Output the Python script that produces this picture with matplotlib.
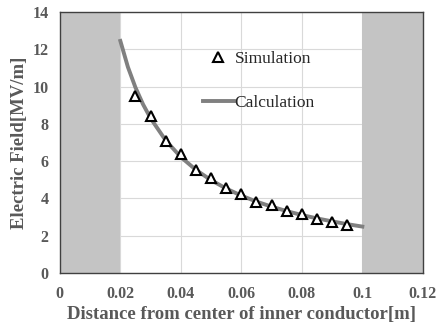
"""Electric field vs radial distance in a coaxial conductor."""
import matplotlib

matplotlib.use("Agg")
import matplotlib.pyplot as plt

# simulation points
sim_r = [0.025, 0.030, 0.035, 0.040, 0.045, 0.050, 0.055, 0.060,
         0.065, 0.070, 0.075, 0.080, 0.085, 0.090, 0.095]
sim_e = [9.51, 8.44, 7.10, 6.40, 5.53, 5.08, 4.54, 4.24,
         3.83, 3.65, 3.34, 3.15, 2.90, 2.75, 2.58]

# calculated curve
calc_r = [0.020, 0.0225, 0.025, 0.0275, 0.030, 0.035, 0.040, 0.045, 0.050,
          0.055, 0.060, 0.065, 0.070, 0.075, 0.080, 0.085, 0.090, 0.095, 0.100]
calc_e = [12.45, 11.05, 9.95, 9.05, 8.30, 7.11, 6.22, 5.53, 4.98,
          4.53, 4.15, 3.83, 3.56, 3.32, 3.11, 2.93, 2.77, 2.62, 2.49]

# conductor regions (shaded)
inner_span = (0.0, 0.02)
outer_span = (0.1, 0.12)

x_ticks = [0, 0.02, 0.04, 0.06, 0.08, 0.1, 0.12]
x_tick_labels = ["0", "0.02", "0.04", "0.06", "0.08", "0.1", "0.12"]
y_ticks = [0, 2, 4, 6, 8, 10, 12, 14]

plt.rcParams["font.family"] = ["Liberation Serif", "DejaVu Serif"]
TEXT = "#595959"

fig = plt.figure(figsize=(4.4, 3.25), dpi=100)
ax = fig.add_axes([0.136, 0.16, 0.825, 0.803])

ax.axvspan(*inner_span, color="#c4c4c4", zorder=1, lw=0)
ax.axvspan(*outer_span, color="#c4c4c4", zorder=1, lw=0)

ax.plot(calc_r, calc_e, color="#808080", linewidth=2.8, zorder=3,
        label="Calculation")
ax.plot(sim_r, sim_e, linestyle="none", marker="^", markersize=6.5,
        markerfacecolor="white", markeredgecolor="black",
        markeredgewidth=1.5, zorder=4, label="Simulation")

ax.set_xlim(0, 0.12)
ax.set_ylim(0, 14)
ax.set_xticks(x_ticks)
ax.set_xticklabels(x_tick_labels)
ax.set_yticks(y_ticks)
ax.grid(True, color="#d9d9d9", linewidth=0.8, zorder=0)
ax.set_axisbelow(True)
ax.tick_params(length=0, colors=TEXT, labelsize=11.5)
ax.tick_params(axis="x", pad=9)
ax.tick_params(axis="y", pad=8)
for label in ax.get_xticklabels() + ax.get_yticklabels():
    label.set_fontweight("bold")
for spine in ax.spines.values():
    spine.set_edgecolor("#404040")
    spine.set_linewidth(1.0)
    spine.set_zorder(5)

ax.set_xlabel("Distance from center of inner conductor[m]", color=TEXT,
              fontsize=13.5, fontweight="bold", labelpad=3)
ax.set_ylabel("Electric Field[MV/m]", color=TEXT,
              fontsize=13.5, fontweight="bold", labelpad=3)

handles, labels = ax.get_legend_handles_labels()
leg = ax.legend(handles[::-1], labels[::-1], frameon=False,
                loc="upper left", bbox_to_anchor=(0.35, 0.91),
                fontsize=12.5, handlelength=1.8, handletextpad=0.05,
                labelspacing=1.6)
for text in leg.get_texts():
    text.set_color("#262626")

fig.savefig("out.png", dpi=100)
